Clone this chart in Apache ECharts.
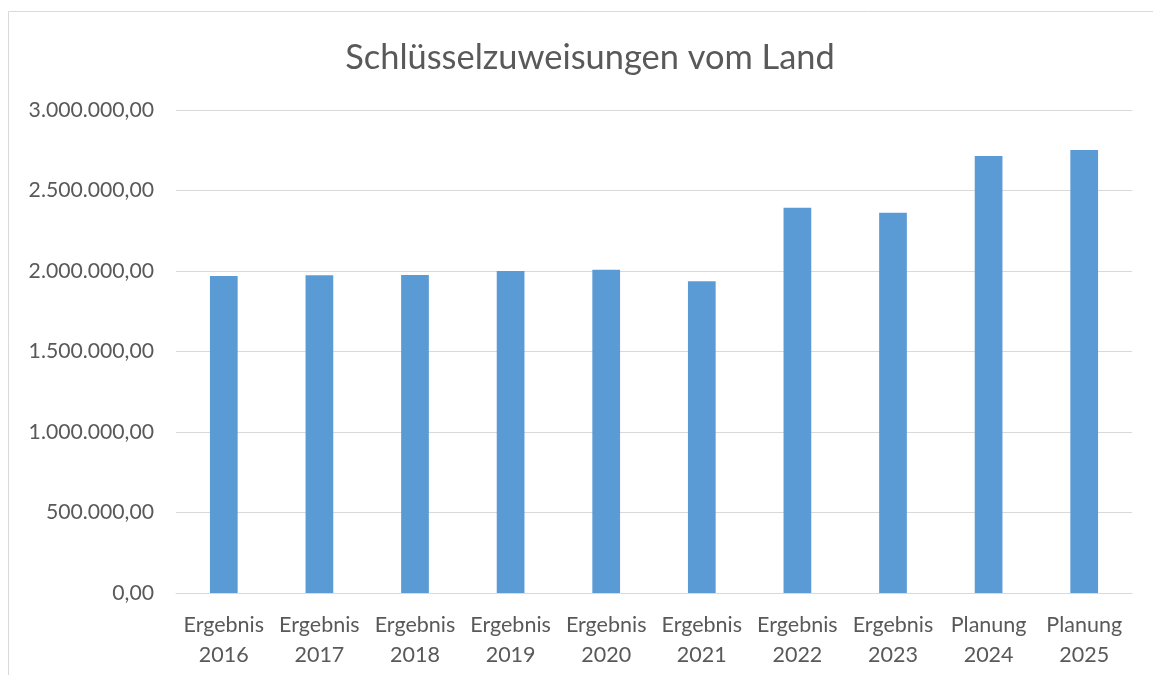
<!DOCTYPE html>
<html>
<head>
<meta charset="utf-8">
<script src="https://cdn.jsdelivr.net/npm/echarts@6/dist/echarts.min.js"></script>
<style>
html,body{margin:0;padding:0;background:#fff;}
#c{width:1153px;height:675px;}
</style>
</head>
<body>
<div id="c"></div>
<script>
const categories = ["Ergebnis\n2016","Ergebnis\n2017","Ergebnis\n2018","Ergebnis\n2019","Ergebnis\n2020","Ergebnis\n2021","Ergebnis\n2022","Ergebnis\n2023","Planung\n2024","Planung\n2025"];
const values = [1969000, 1973000, 1975000, 2000000, 2008000, 1936000, 2393000, 2362000, 2714000, 2752000];
const titleText = "Schlüsselzuweisungen vom Land";

function fmtDE(v){
  const parts = Math.round(v).toString().replace(/\B(?=(\d{3})+(?!\d))/g, ".");
  return parts + ",00";
}

const chart = echarts.init(document.getElementById('c'), null, {renderer:'canvas'});
const font = "Lato, 'Open Sans', sans-serif";
chart.setOption({
  animation:false,
  backgroundColor:'#fff',
  graphic:[{
    type:'rect', silent:true,
    shape:{x:8.5,y:11.5,width:1300,height:800},
    style:{fill:'none',stroke:'#d9d9d9',lineWidth:1}
  }],
  title:{
    text:titleText, left:585, top:36, textAlign:'center',
    textStyle:{fontFamily:font,fontSize:34.4,fontWeight:'normal',color:'#595959'}
  },
  grid:{left:176,right:21,top:110,bottom:82,containLabel:false},
  xAxis:{
    type:'category', data:categories,
    axisLine:{lineStyle:{color:'#d9d9d9',width:1}},
    axisTick:{show:false},
    axisLabel:{fontFamily:font,fontSize:21.5,color:'#595959',lineHeight:30,margin:17,interval:0}
  },
  yAxis:{
    type:'value', min:0, max:3000000, interval:500000,
    axisLine:{show:false}, axisTick:{show:false},
    splitLine:{lineStyle:{color:'#d9d9d9',width:1}},
    axisLabel:{fontFamily:font,fontSize:21.2,color:'#595959',margin:22,formatter:fmtDE}
  },
  series:[{
    type:'bar', data:values, barWidth:'29%',
    itemStyle:{color:'#5b9bd5'}
  }]
});
</script>
</body>
</html>
